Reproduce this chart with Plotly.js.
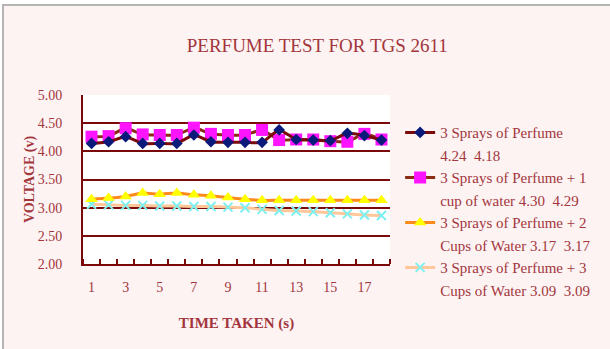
<!DOCTYPE html>
<html><head><meta charset="utf-8">
<script src="https://cdn.plot.ly/plotly-3.0.1.min.js"></script>
<style>
body{margin:0;background:#ffffff;}
#chart{position:absolute;left:2px;top:4px;width:606px;height:343px;border-top:2px solid #b4b4b4;border-left:2px solid #b4b4b4;}
</style></head><body>
<div id="chart"></div>
<script>
const times = [1,2,3,4,5,6,7,8,9,10,11,12,13,14,15,16,17,18];
const sprays3 = [4.14,4.17,4.26,4.14,4.14,4.14,4.29,4.17,4.16,4.16,4.16,4.38,4.21,4.20,4.19,4.32,4.28,4.20];
const sprays3Water1 = [4.26,4.27,4.41,4.30,4.29,4.29,4.42,4.31,4.29,4.29,4.38,4.20,4.21,4.21,4.18,4.17,4.31,4.21];
const sprays3Water2 = [3.15,3.17,3.20,3.26,3.24,3.26,3.23,3.21,3.18,3.15,3.13,3.13,3.13,3.13,3.13,3.13,3.13,3.13];
const sprays3Water3 = [3.06,3.05,3.04,3.04,3.03,3.03,3.02,3.02,3.01,3.00,2.97,2.95,2.94,2.93,2.91,2.89,2.87,2.86];
const names = ["3 Sprays of Perfume", "3 Sprays of Perfume + 1", "3 Sprays of Perfume + 2", "3 Sprays of Perfume + 3"];
const subNames = ["4.24  4.18", "cup of water 4.30  4.29", "Cups of Water 3.17  3.17", "Cups of Water 3.09  3.09"];
const xTicks = [1,3,5,7,9,11,13,15,17];
const yTicks = [2.0,2.5,3.0,3.5,4.0,4.5,5.0];

const txt = '#a3363c';
const font = 'Liberation Serif, DejaVu Serif, serif';
const series = [sprays3, sprays3Water1, sprays3Water2, sprays3Water3];
const lineColors = ['#7a0a0a','#8c2a14','#ff8a1c','#ffc79a'];
const markers = [
  {symbol:'diamond', color:'#0a1a7a', size:9},
  {symbol:'square', color:'#ff14ff', size:12},
  {symbol:'triangle-up', color:'#ffff00', size:11},
  {symbol:'x-thin', color:'#7ff0f0', size:9, line:{color:'#7ff0f0', width:2}}
];
const traces = [];
series.forEach((s,i)=>{
  traces.push({x:times, y:s, type:'scatter', mode:'lines+markers', name:names[i],
    line:{color:lineColors[i], width:3, shape:'spline', smoothing:0.5},
    marker:markers[i]});
  traces.push({x:[null], y:[null], type:'scatter', mode:'lines', name:subNames[i],
    line:{color:'rgba(0,0,0,0)', width:0}, hoverinfo:'skip'});
});
traces.forEach((t,i)=>{t.legendrank = i+1;});
const order = [6,7,4,5,2,3,0,1];
const drawn = order.map(i=>traces[i]);

const layout = {
  width:606, height:343,
  paper_bgcolor:'#fdf3f3', plot_bgcolor:'#ffffff',
  margin:{l:79, r:220, t:89, b:85},
  title:{text:'PERFUME TEST FOR TGS 2611', font:{family:font, size:19, color:txt},
    x:0.517, xref:'container', xanchor:'center', y:0.885, yref:'container', yanchor:'middle'},
  xaxis:{range:[0.5,18.5], tickvals:xTicks, ticktext:xTicks.map(String), ticks:'',
    showgrid:false, zeroline:false, showline:true, linecolor:'#7a0a0a', linewidth:2,
    tickfont:{family:font, size:14, color:txt}, ticklabelstandoff:9,
    minor:{tick0:0.5, dtick:1, ticks:'inside', ticklen:5, tickwidth:2, tickcolor:'#7a0a0a', showgrid:false},
    title:{text:'<b>TIME TAKEN (s)</b>', font:{family:font, size:15, color:txt}, standoff:24}},
  yaxis:{range:[2,5], tickvals:yTicks, ticktext:yTicks.map(v=>v.toFixed(2)), ticks:'',
    showgrid:true, gridcolor:'#7a0a0a', gridwidth:2, zeroline:false,
    showline:true, linecolor:'#7a0a0a', linewidth:2,
    tickfont:{family:font, size:14, color:txt}, ticklabelstandoff:16,
    title:{text:'<b>VOLTAGE (v)</b>', font:{family:font, size:14, color:txt}, standoff:0}},
  showlegend:true,
  legend:{x:1.033, xanchor:'left', y:0.875, yanchor:'top', bgcolor:'rgba(0,0,0,0)',
    font:{family:font, size:15, color:txt}, tracegroupgap:0, itemwidth:30, maxheight:400},
  hovermode:false
};
Plotly.newPlot('chart', drawn, layout, {displayModeBar:false, staticPlot:true});
</script></body></html>
